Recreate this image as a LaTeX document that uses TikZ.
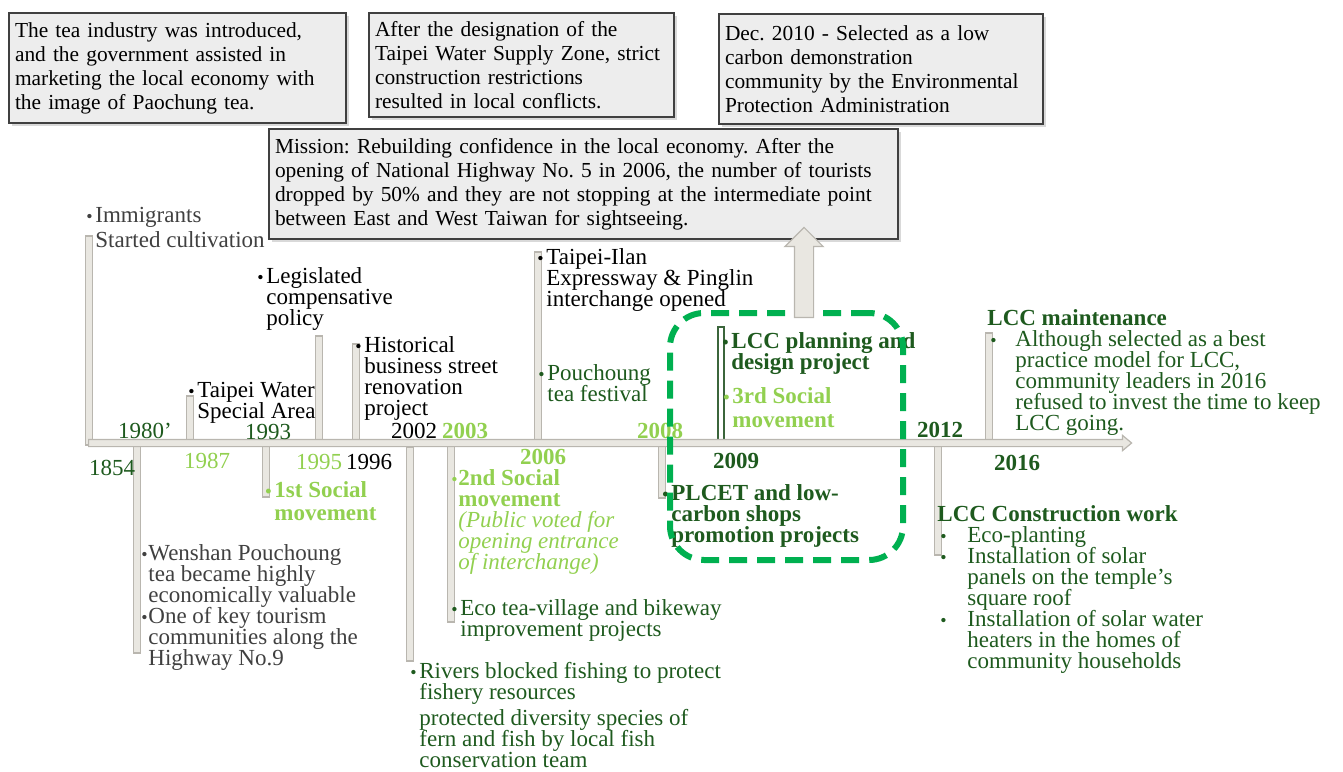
\documentclass[tikz,border=0pt]{standalone}
\usepackage{fontspec}
\setmainfont{Liberation Serif}
\usetikzlibrary{shapes,shadows}
\frenchspacing

\definecolor{leafdark}{RGB}{30,90,30}
\definecolor{leaflight}{RGB}{146,208,80}
\definecolor{inkgray}{RGB}{64,64,64}
\definecolor{framegreen}{RGB}{0,176,80}
\definecolor{barfill}{RGB}{233,231,225}
\definecolor{barline}{RGB}{185,182,175}
\definecolor{boxfill}{RGB}{237,237,237}

\newcommand{\bu}{{\small\textbullet}}
\newcommand{\bitems}[2][4.5pt]{\vtop{\lineskiplimit=-10pt\let\\\cr
    \halign{\hbox to #1{##\hfil}&##\hfil\cr#2\crcr}}}

\begin{document}
\begin{tikzpicture}[
    x=0.5pt, y=-0.5pt,
    note/.style={
        rectangle,
        draw=inkgray,
        fill=boxfill,
        line width=1pt,
        anchor=north west,
        align=left,
        inner xsep=3pt,
        font=\fontsize{10.7}{12}\selectfont,
        drop shadow={shadow xshift=1.5pt, shadow yshift=-1.5pt, opacity=0.3}
    },
    event/.style={anchor=base west, inner sep=0pt, font=\fontsize{11.5}{10.5}\selectfont},
    year/.style={inner sep=0pt, font=\fontsize{11.5}{12}\selectfont},
    bar/.style={draw=barline, fill=barfill, line width=0.6pt},
    bigarrow/.style={
        single arrow,
        draw=barline,
        fill=barfill,
        line width=0.6pt,
        single arrow head indent=0pt
    }
]
    \useasboundingbox (0,0) rectangle (1343,771);

    % Boxes on top
    \node[note, minimum width=168.5pt, minimum height=55pt, text width=162.5pt] (teabox) at (8,12)
        {The tea industry was introduced,\\and the government assisted in\\marketing the local economy with\\the image of Paochung tea.};
    \node[note, minimum width=152.5pt, minimum height=52pt, text width=146.5pt] (zonebox) at (368,12)
        {After the designation of the\\Taipei Water Supply Zone, strict\\construction restrictions\\resulted in local conflicts.};
    \node[note, minimum width=162pt, minimum height=55pt, text width=156pt] (epabox) at (718,13)
        {Dec. 2010 - Selected as a low\\carbon demonstration\\community by the Environmental\\Protection Administration};
    \node[note, minimum width=314.5pt, minimum height=55pt, text width=308.5pt] (missionbox) at (268,128)
        {Mission: Rebuilding confidence in the local economy. After the\\opening of National Highway No. 5 in 2006, the number of tourists\\dropped by 50\% and they are not stopping at the intermediate point\\between East and West Taiwan for sightseeing.};

    % Year bars
    \draw[bar] (85.5,236) rectangle (92.5,445);
    \draw[bar] (133.5,445) rectangle (140.5,653);
    \draw[bar] (186.5,396) rectangle (193.5,442);
    \draw[bar] (262.5,445) rectangle (269.5,497);
    \draw[bar] (315.5,336) rectangle (322.5,442);
    \draw[bar] (352.5,344) rectangle (359.5,442);
    \draw[bar] (406.5,447) rectangle (413.5,661);
    \draw[bar] (447.5,442) rectangle (454.5,622);
    \draw[bar] (534.5,252) rectangle (541.5,442);
    \draw[bar] (658.5,445) rectangle (665.5,498);
    \draw[bar, draw=leafdark!70!gray, fill=white] (718,327) rectangle (724,444);
    \draw[bar] (934.5,445) rectangle (941.5,555);
    \draw[bar] (985.5,333) rectangle (992.5,442);

    % Time axis
    \node[bigarrow, anchor=tail, inner sep=1.5pt, minimum height=521.5pt,
        single arrow head extend=2pt, single arrow tip angle=80] (timeline) at (88,443) {};

    % Years
    \node[year, text=leafdark] (y1854) at (112,468) {1854};
    \node[year, text=leafdark] (y1980) at (145,431) {1980'};
    \node[year, text=leaflight] (y1987) at (207,461) {1987};
    \node[year, text=leafdark] (y1993) at (268,432) {1993};
    \node[year, text=leaflight] (y1995) at (319,462) {1995};
    \node[year] (y1996) at (369,462) {1996};
    \node[year] (y2002) at (414,431) {2002};
    \node[year, text=leaflight, font=\fontsize{11.5}{12}\selectfont\bfseries] (y2003) at (465,431) {2003};
    \node[year, text=leaflight, font=\fontsize{11.5}{12}\selectfont\bfseries] (y2006) at (543,457) {2006};
    \node[year, text=leaflight, font=\fontsize{11.5}{12}\selectfont\bfseries] (y2008) at (660,431) {2008};
    \node[year, text=leafdark, font=\fontsize{11.5}{12}\selectfont\bfseries] (y2009) at (736,461) {2009};
    \node[year, text=leafdark, font=\fontsize{11.5}{12}\selectfont\bfseries] (y2012) at (940,430) {2012};
    \node[year, text=leafdark, font=\fontsize{11.5}{12}\selectfont\bfseries] (y2016) at (1017,463) {2016};

    % Events above the axis
    \node[event, text=inkgray] (immig) at (86,222)
        {\bitems{\bu & Immigrants\\\noalign{\kern2pt} & Started cultivation}};
    \node[event] (legis) at (257,283)
        {\bitems{\bu & Legislated\\ & compensative\\ & policy}};
    \node[event] (waterarea) at (188,397)
        {\bitems{\bu & Taipei Water\\ & Special Area}};
    \node[event] (street) at (355,352)
        {\bitems{\bu & Historical\\ & business street\\ & renovation\\ & project}};
    \node[event] (expway) at (537,264)
        {\bitems{\bu & Taipei-Ilan\\ & Expressway \& Pinglin\\ & interchange opened}};
    \node[event, text=leafdark] (festival) at (538,380)
        {\bitems{\bu & Pouchoung\\ & tea festival}};
    \node[event, text=leafdark, font=\fontsize{11.5}{10.5}\selectfont\bfseries] (lccplan) at (722,348)
        {\bitems{\bu & LCC planning and\\ & design project}};
    \node[event, text=leaflight, font=\fontsize{11.5}{10.5}\selectfont\bfseries] (social3) at (723,403)
        {\bitems{\bu & 3rd Social\\\noalign{\kern1.5pt} & movement}};
    \node[event, text=leafdark] (maint) at (987,325)
        {\bitems[14pt]{\rlap{\textbf{LCC maintenance}} & \\
            \kern1.5pt\bu & Although selected as a best\\ & practice model for LCC,\\
            & community leaders in 2016\\ & refused to invest the time to keep\\ & LCC going.}};

    % Events below the axis
    \node[event, text=leaflight, font=\fontsize{11.5}{10.5}\selectfont\bfseries] (social1) at (265,497)
        {\bitems{\bu & 1st Social\\\noalign{\kern1pt} & movement}};
    \node[event, text=inkgray] (wenshan) at (141,560)
        {\bitems[3.5pt]{\bu & Wenshan Pouchoung\\ & tea became highly\\ & economically valuable\\
            \bu & One of key tourism\\ & communities along the\\ & Highway No.9}};
    \node[event, text=leaflight] (social2) at (451,485)
        {\bitems[3.5pt]{\bu & \textbf{2nd Social}\\ & \textbf{movement}\\ & \textit{(Public voted for}\\
            & \textit{opening entrance}\\ & \textit{of interchange)}}};
    \node[event, text=leafdark] (ecotea) at (451,615)
        {\bitems{\bu & Eco tea-village and bikeway\\ & improvement projects}};
    \node[event, text=leafdark] (rivers) at (410,678)
        {\bitems{\bu & Rivers blocked fishing to protect\\ & fishery resources\\\noalign{\kern2.5pt}
            & protected diversity species of\\ & fern and fish by local fish\\ & conservation team}};
    \node[event, text=leafdark, font=\fontsize{11.5}{10.5}\selectfont\bfseries] (plcet) at (662,500)
        {\bitems{\bu & PLCET and low-\\ & carbon shops\\ & promotion projects}};
    \node[event, text=leafdark] (construct) at (937,521)
        {\bitems[15pt]{\rlap{\textbf{LCC Construction work}} & \\
            \kern1.5pt\bu & Eco-planting\\
            \kern1.5pt\bu & Installation of solar\\ & panels on the temple's\\ & square roof\\
            \kern1.5pt\bu & Installation of solar water\\ & heaters in the homes of\\ & community households}};

    % LCC period frame and arrow to the mission
    \node[draw=framegreen, line width=3pt, dash pattern=on 9pt off 5pt, rounded corners=17pt,
        minimum width=116.5pt, minimum height=123.5pt] (lccbox) at (786.5,436.5) {};
    \node[bigarrow, anchor=tail, shape border rotate=90, inner sep=4.5pt, minimum height=45pt,
        single arrow head extend=4.75pt] (push) at (804,318) {};
\end{tikzpicture}
\end{document}
